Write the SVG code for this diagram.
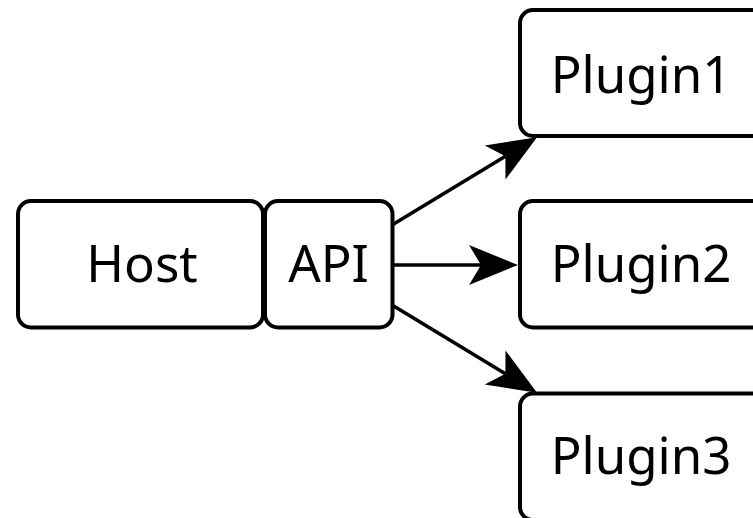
<svg xmlns="http://www.w3.org/2000/svg" width="753" height="518" viewBox="0 0 753 518">
  <style>
    .box { fill: #ffffff; stroke: #000000; stroke-width: 4; }
    .lbl { font-family: "Noto Sans", "Open Sans", sans-serif; font-size: 51px; fill: #000000; text-anchor: middle; }
    .edge { fill: none; stroke: #000000; stroke-width: 3.6; }
  </style>
  <defs>
    <marker id="arrow" markerUnits="userSpaceOnUse" markerWidth="60" markerHeight="50" viewBox="-15 -25 60 50" refX="0" refY="0" orient="auto" overflow="visible">
      <path d="M37,0 L-12,-20 L0,0 L-12,20 Z" fill="#000000"/>
    </marker>
  </defs>
  <rect width="753" height="518" fill="#ffffff"/>

  <g id="connectors">
    <line class="edge" x1="392" y1="225" x2="505.4" y2="156.3" marker-end="url(#arrow)"/>
    <line class="edge" x1="392" y1="265" x2="481" y2="265" marker-end="url(#arrow)"/>
    <line class="edge" x1="392" y1="305" x2="505.4" y2="373.7" marker-end="url(#arrow)"/>
  </g>

  <g id="host">
    <rect class="box" x="18" y="201" width="245" height="126.5" rx="13"/>
    <text class="lbl" x="142" y="282">Host</text>
  </g>
  <g id="api">
    <rect class="box" x="265" y="201" width="127.5" height="126.5" rx="13"/>
    <text class="lbl" x="328.5" y="282">API</text>
  </g>
  <g id="plugin1">
    <rect class="box" x="520" y="10" width="245" height="126" rx="13"/>
    <text class="lbl" x="641" y="93">Plugin1</text>
  </g>
  <g id="plugin2">
    <rect class="box" x="520" y="201" width="245" height="126.5" rx="13"/>
    <text class="lbl" x="641" y="282">Plugin2</text>
  </g>
  <g id="plugin3">
    <rect class="box" x="520" y="393.5" width="245" height="126.5" rx="13"/>
    <text class="lbl" x="641" y="474">Plugin3</text>
  </g>
</svg>
